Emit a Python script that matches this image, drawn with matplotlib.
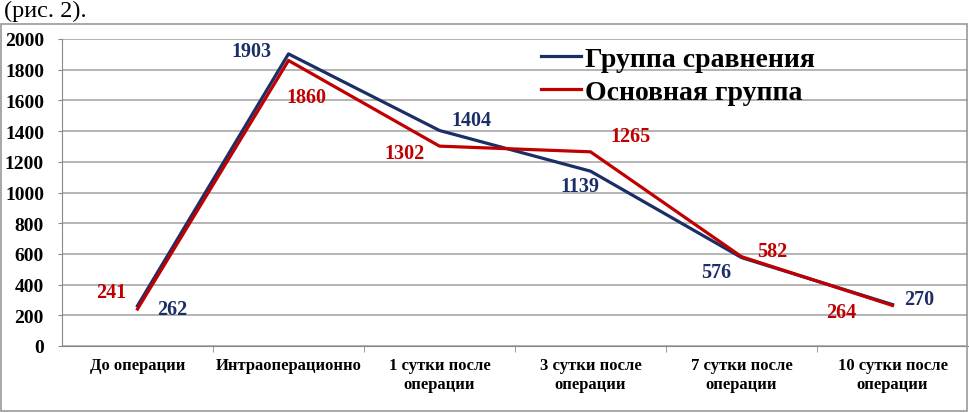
import matplotlib
matplotlib.use("Agg")
import matplotlib.pyplot as plt
from matplotlib.patches import Rectangle

categories = ["До операции", "Интраоперационно", "1 сутки после\nоперации",
              "3 сутки после\nоперации", "7 сутки после\nоперации", "10 сутки после\nоперации"]
comparison = [262, 1903, 1404, 1139, 576, 270]
main_group = [241, 1860, 1302, 1265, 582, 264]
y_ticks = [0, 200, 400, 600, 800, 1000, 1200, 1400, 1600, 1800, 2000]

blue = "#1B2F66"
red = "#C00000"
serif = ["Liberation Serif", "DejaVu Serif"]

fig = plt.figure(figsize=(9.69, 4.14), dpi=100)
W, H = 969, 414
ax = fig.add_axes([62 / W, 1 - 347 / H, (968 - 62) / W, (347 - 40) / H])

x = list(range(len(categories)))
ax.plot(x, comparison, color=blue, lw=2.3, label="Группа сравнения", zorder=3)
ax.plot(x, main_group, color=red, lw=2.3, label="Основная группа", zorder=4)

ax.set_xlim(-0.5, len(categories) - 0.5)
ax.set_ylim(0, 2000)
ax.set_yticks(y_ticks)
ax.set_yticklabels([str(v) for v in y_ticks], fontfamily=serif, fontweight="bold", fontsize=14)
ax.set_xticks(x)
ax.set_xticklabels(categories, fontfamily=serif, fontweight="bold", fontsize=12, linespacing=1.2)
ax.set_xticks([i + 0.5 for i in x[:-1]], minor=True)
ax.tick_params(axis="x", which="major", length=0, pad=8)
ax.tick_params(axis="x", which="minor", length=4, color="#888888")
ax.tick_params(axis="y", length=3, color="#888888", pad=10)
ax.grid(axis="y", color="#A0A0A0", lw=1.1)
ax.set_axisbelow(True)
for s in ["top", "right"]:
    ax.spines[s].set_visible(False)
ax.spines["left"].set_color("#888888")
ax.spines["bottom"].set_color("#888888")

# data labels (offsets in points)
blue_off = [(25, -2), (-27, 2), (23, 7.5), (-8, -11), (-18, -10.5), (19, 4)]
red_off = [(-19, 12), (13, -26), (-25, -5), (29, 11.5), (22, 4), (-37, -5)]
for i in x:
    ax.annotate(str(comparison[i]), (i, comparison[i]), xytext=blue_off[i], textcoords="offset points",
                ha="center", va="center", color=blue, fontfamily=serif, fontweight="bold", fontsize=14.5)
    ax.annotate(str(main_group[i]), (i, main_group[i]), xytext=red_off[i], textcoords="offset points",
                ha="center", va="center", color=red, fontfamily=serif, fontweight="bold", fontsize=14.5)

leg = ax.legend(loc="upper left", bbox_to_anchor=((524 - 62) / (968 - 62), 1.03), frameon=False,
                prop={"family": serif, "weight": "bold", "size": 20}, handlelength=1.45,
                handletextpad=0.15, labelspacing=0.26, borderaxespad=0.2)

# outer frame
fig.patches.append(Rectangle((1 / W, 1 - 412 / H), 966 / W, (412 - 25) / H, transform=fig.transFigure,
                             fill=False, edgecolor="#9A9A9A", lw=1.2))
fig.text(4 / W, 1 - 17 / H, "(рис. 2).", fontfamily=serif, fontsize=17.5, va="baseline", ha="left")

fig.savefig("out.png", dpi=100)
